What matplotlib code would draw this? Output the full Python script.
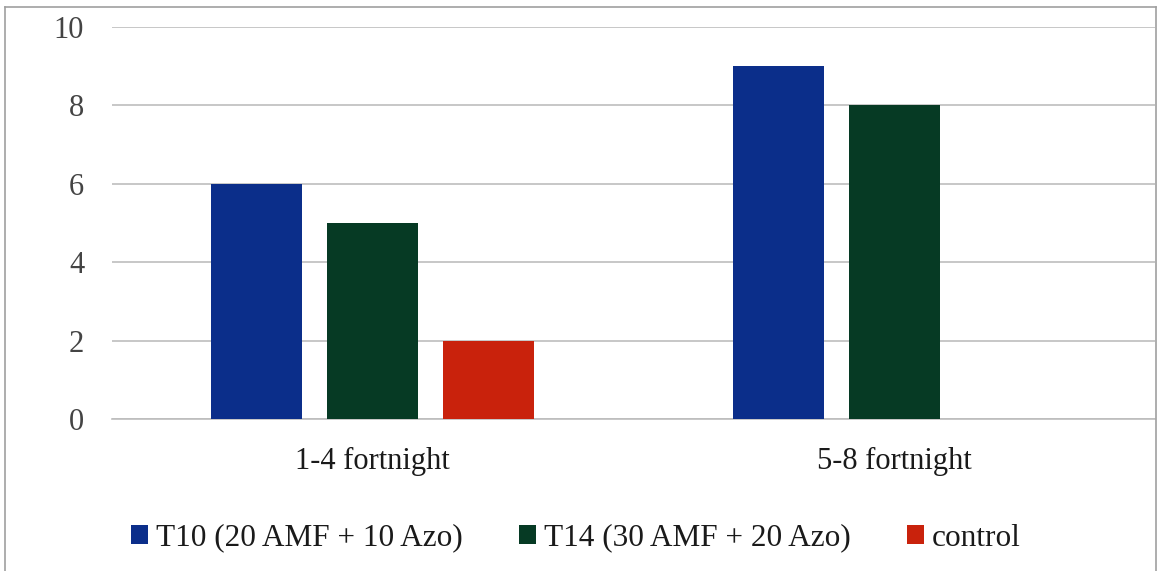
import matplotlib
matplotlib.use("Agg")
import matplotlib.pyplot as plt
from matplotlib.lines import Line2D
import numpy as np

categories = ["1-4 fortnight", "5-8 fortnight"]
series_names = ["T10 (20 AMF + 10 Azo)", "T14 (30 AMF + 20 Azo)", "control"]
t10 = [6, 9]
t14 = [5, 8]
control = [2, 0]
yticks = [0, 2, 4, 6, 8, 10]

colors = ["#0b2e8a", "#063a24", "#c9220c"]

plt.rcParams['font.family'] = ['Liberation Serif', 'DejaVu Serif']

W, H = 1158, 571
fig = plt.figure(figsize=(W / 100, H / 100), dpi=100)
ax = fig.add_axes([112 / W, 1 - 419 / H, (1155 - 112) / W, (419 - 27) / H])

x = np.arange(len(categories))
bw = 0.1745
step = 0.2224
for i, (vals, name, c) in enumerate(zip([t10, t14, control], series_names, colors)):
    ax.bar(x + (i - 1) * step, vals, width=bw, color=c, label=name, zorder=3)

ax.set_xlim(-0.5, 1.5)
ax.set_ylim(0, 10)
ax.set_yticks(yticks)
ax.set_yticklabels([str(v) for v in yticks])
ax.set_xticks(x)
ax.set_xticklabels(categories)
ax.tick_params(axis='both', length=0, labelsize=22)
ax.tick_params(axis='y', pad=20, colors='#444444')
ax.tick_params(axis='x', pad=20, colors='#1a1a1a')
ax.yaxis.grid(True, color='#bdbdbd', linewidth=1.2, zorder=0)
ax.set_axisbelow(True)
for s in ['top', 'right', 'left']:
    ax.spines[s].set_visible(False)
ax.spines['bottom'].set_color('#bdbdbd')
ax.spines['bottom'].set_linewidth(1.2)

handles, labels = ax.get_legend_handles_labels()
fig.legend(handles, labels, loc='center', bbox_to_anchor=(0.497, 1 - 538 / H),
           ncol=3, frameon=False, fontsize=22.5, handlelength=0.55, handleheight=0.55,
           handletextpad=0.25, columnspacing=1.8, labelcolor='#1a1a1a')

# outer chart frame
bc = '#a0a0a0'
fig.add_artist(Line2D([5 / W, 5 / W], [0, 1 - 7 / H], color=bc, lw=1.2, transform=fig.transFigure))
fig.add_artist(Line2D([5 / W, 1156 / W], [1 - 7 / H, 1 - 7 / H], color=bc, lw=1.2, transform=fig.transFigure))
fig.add_artist(Line2D([1156 / W, 1156 / W], [0, 1 - 7 / H], color=bc, lw=1.2, transform=fig.transFigure))

fig.savefig("out.png", dpi=100)
